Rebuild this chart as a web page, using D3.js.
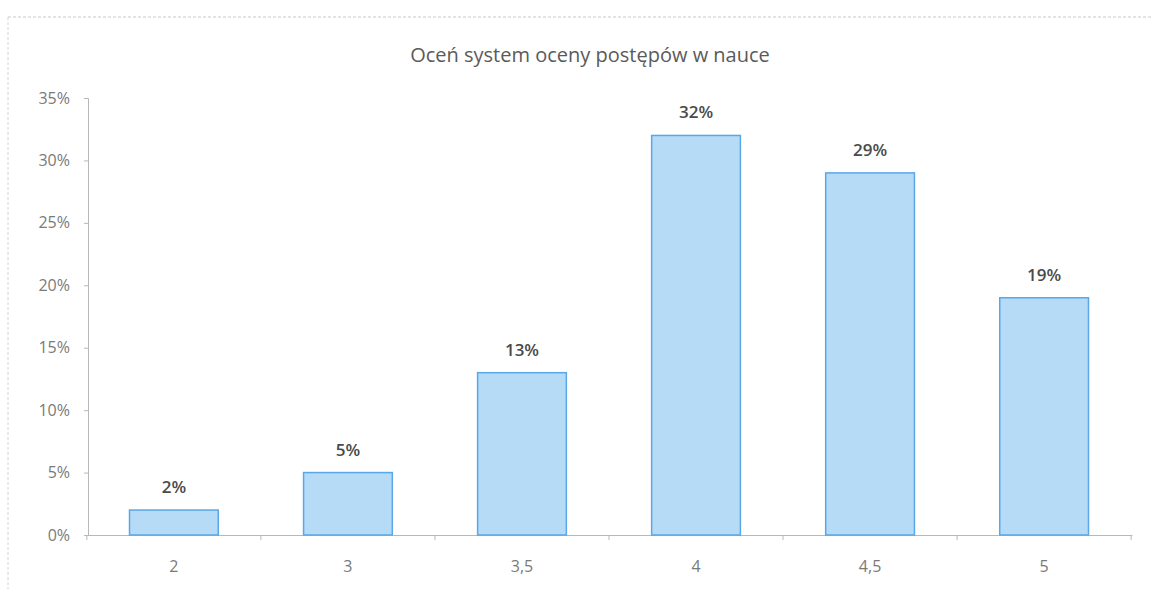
<!DOCTYPE html>
<html>
<head>
<meta charset="utf-8">
<script src="https://cdn.jsdelivr.net/npm/d3@7"></script>
<style>
  body { margin: 0; background: #fff; }
  text { font-family: "Open Sans", "Liberation Sans", sans-serif; }
</style>
</head>
<body>
<div class="chart"></div>
<script>
// data
const categories = ["2", "3", "3,5", "4", "4,5", "5"];
const values = [0.02, 0.05, 0.13, 0.32, 0.29, 0.19];
const yTicks = [0, 0.05, 0.10, 0.15, 0.20, 0.25, 0.30, 0.35];
const title = "Oceń system oceny postępów w nauce";

const width = 1152, height = 589;
const plotLeft = 86, plotRight = 1132, plotTop = 98, plotBottom = 535;

const svg = d3.select(".chart").append("svg")
    .attr("width", width)
    .attr("height", height);

// scanned page frame (faint dotted edges)
svg.append("line")
    .attr("x1", 8).attr("x2", width).attr("y1", 17).attr("y2", 17)
    .attr("stroke", "#c8c8c8").attr("stroke-dasharray", "3,2");
svg.append("line")
    .attr("x1", 8).attr("x2", 8).attr("y1", 17).attr("y2", height)
    .attr("stroke", "#d4d4d4").attr("stroke-dasharray", "3,2");

svg.append("text")
    .attr("x", 590).attr("y", 62)
    .attr("text-anchor", "middle")
    .attr("font-size", 20)
    .attr("fill", "#5a5a5a")
    .text(title);

const x = d3.scaleBand()
    .domain(categories)
    .range([plotLeft, plotRight])
    .paddingInner(0.49)
    .paddingOuter(0.25);

const y = d3.scaleLinear()
    .domain([0, 0.35])
    .range([plotBottom, plotTop]);

// y axis
const yAxis = svg.append("g")
    .attr("transform", `translate(${plotLeft + 2},0)`)
    .call(d3.axisLeft(y).tickValues(yTicks).tickSize(4)
        .tickFormat(d => Math.round(d * 100) + "%"));
yAxis.select(".domain").attr("stroke", "#b8b8b8");
yAxis.selectAll(".tick line").attr("stroke", "#b8b8b8");
yAxis.selectAll(".tick text")
    .attr("x", -18)
    .attr("font-size", 16)
    .attr("fill", "#7a7a7a")
    .attr("font-family", "Open Sans, sans-serif");

// x axis
const xAxis = svg.append("g")
    .attr("transform", `translate(0,${plotBottom})`)
    .call(d3.axisBottom(x).tickSize(0).tickPadding(26));
xAxis.select(".domain").attr("stroke", "#b8b8b8");
xAxis.selectAll(".tick text")
    .attr("font-size", 16)
    .attr("fill", "#7a7a7a")
    .attr("font-family", "Open Sans, sans-serif");
// ticks between categories
const step = x.step();
const sep0 = x(categories[0]) - (step - x.bandwidth()) / 2;
xAxis.selectAll(".sep")
    .data(d3.range(categories.length + 1))
    .enter().append("line")
    .attr("x1", i => sep0 + i * step)
    .attr("x2", i => sep0 + i * step)
    .attr("y1", 0).attr("y2", 5)
    .attr("stroke", "#b8b8b8");

// bars
svg.append("g").selectAll("rect")
    .data(values)
    .enter().append("rect")
    .attr("x", (d, i) => x(categories[i]))
    .attr("y", d => y(d))
    .attr("width", x.bandwidth())
    .attr("height", d => y(0) - y(d))
    .attr("fill", "#b5dbf6")
    .attr("stroke", "#5aa7e8")
    .attr("stroke-width", 1.5);

// value labels
svg.append("g").selectAll("text")
    .data(values)
    .enter().append("text")
    .attr("x", (d, i) => x(categories[i]) + x.bandwidth() / 2)
    .attr("y", d => y(d) - 17)
    .attr("text-anchor", "middle")
    .attr("font-size", 17)
    .attr("font-weight", 600)
    .attr("fill", "#4a4a4a")
    .text(d => Math.round(d * 100) + "%");
</script>
</body>
</html>
